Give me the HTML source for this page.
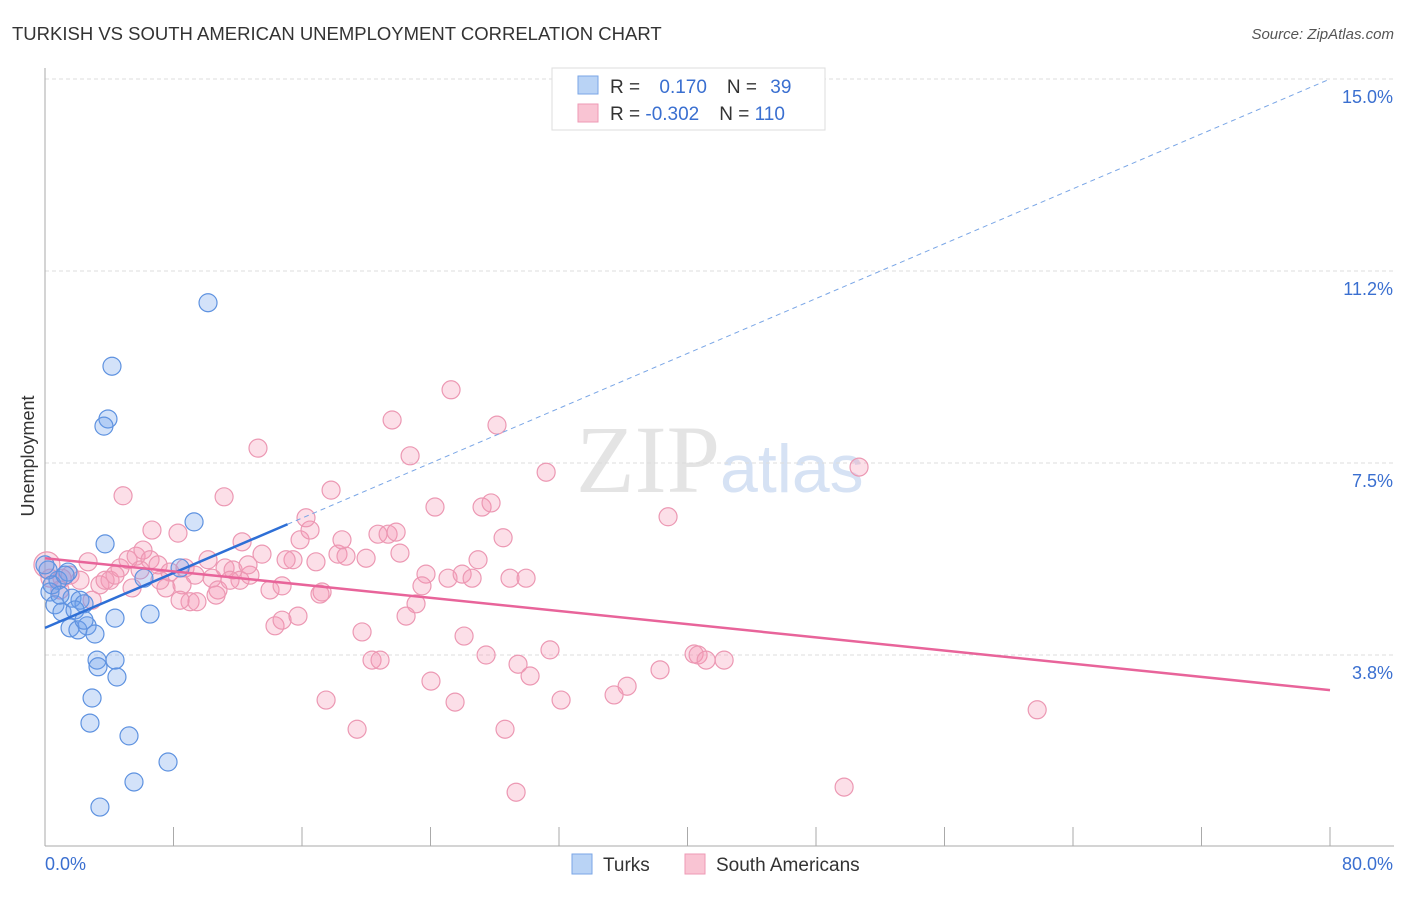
<!DOCTYPE html>
<html><head><meta charset="utf-8"><style>
body{margin:0;background:#fff;font-family:"Liberation Sans",sans-serif}
</style></head><body>
<svg id="chart" width="1406" height="892" xmlns="http://www.w3.org/2000/svg">
<text x="12" y="40" font-size="18.5" fill="#333">TURKISH VS SOUTH AMERICAN UNEMPLOYMENT CORRELATION CHART</text>
<text x="1394" y="39" font-size="15" fill="#555" font-style="italic" text-anchor="end">Source: ZipAtlas.com</text>
<text x="34" y="456" font-size="18" fill="#333" text-anchor="middle" transform="rotate(-90 34 456)">Unemployment</text>
<text x="720" y="492" font-size="96" fill="#e4e4e4" text-anchor="end" font-family="Liberation Serif">ZIP</text>
<text x="720" y="492" font-size="68" fill="#d6e2f4">atlas</text>
<g id="grid"></g><g id="axes"></g><g id="pts"></g><g id="lines"></g>
<g>
<rect x="552" y="68" width="273" height="62" fill="#fff" stroke="#ddd"/>
<rect x="578" y="76" width="20" height="18" fill="#b9d3f5" stroke="#7aa6e6"/>
<rect x="578" y="104" width="20" height="18" fill="#f9c4d3" stroke="#ee9ab4"/>
<text x="610" y="93" font-size="19" fill="#333">R = <tspan fill="#3a6fd0" dx="14">0.170</tspan><tspan fill="#333" dx="20">N = </tspan><tspan fill="#3a6fd0" dx="8">39</tspan></text>
<text x="610" y="120" font-size="19" fill="#333">R = <tspan fill="#3a6fd0">-0.302</tspan><tspan fill="#333" dx="20">N = </tspan><tspan fill="#3a6fd0">110</tspan></text>
</g>
<g>
<rect x="572" y="854" width="20" height="20" fill="#b9d3f5" stroke="#7aa6e6"/>
<text x="603" y="871" font-size="19" fill="#333">Turks</text>
<rect x="685" y="854" width="20" height="20" fill="#f9c4d3" stroke="#ee9ab4"/>
<text x="716" y="871" font-size="19" fill="#333">South Americans</text>
</g>
</svg>
<script>
const yTicks=[3.75,7.5,11.25,15];
const yTickLabels=["3.8%","7.5%","11.2%","15.0%"];
const xTicks=[0,8,16,24,32,40,48,56,64,72,80];
const turksX=[10.15,4.17,3.92,3.67,9.28,3.74,6.16,8.41,1.43,0.81,0.31,0.62,1.06,1.68,2.18,2.43,1.87,1.56,2.62,3.11,4.36,6.54,3.24,4.36,3.30,4.48,2.93,2.80,5.23,7.66,5.54,3.42,0.19,0.44,0.93,1.25,2.05,0,2.43];
const turksY=[10.63,9.39,8.36,8.22,6.35,5.92,5.25,5.45,5.37,5.21,4.98,4.73,4.59,4.86,4.82,4.75,4.63,4.28,4.32,4.16,4.47,4.55,3.65,3.65,3.52,3.32,2.91,2.42,2.17,1.66,1.27,0.78,5.41,5.12,4.92,5.31,4.24,5.51,4.43];
const saX=[0.12,0.31,1.06,1.56,2.18,2.68,3.42,4.05,4.67,5.17,5.67,6.10,6.54,7.04,7.78,8.72,9.34,10.15,10.40,10.77,11.21,11.71,12.14,12.76,13.51,14.01,14.76,15.44,15.88,16.50,16.87,17.25,18.24,18.74,18.49,19.99,20.73,21.36,21.86,22.10,23.72,23.47,23.10,22.48,25.09,25.97,26.59,26.96,28.95,29.95,4.86,6.66,8.28,11.15,12.27,13.26,17.81,16.25,21.61,22.73,25.28,28.14,31.20,24.28,27.21,27.77,28.52,38.79,50.68,7.53,9.03,9.46,10.65,14.32,14.76,15.75,17.12,19.74,20.36,20.86,24.03,25.53,26.09,27.46,29.45,30.20,31.44,32.13,35.43,36.24,38.29,40.41,40.66,41.16,42.28,61.77,17.50,19.43,28.64,29.33,49.75,3.74,4.36,5.92,7.16,8.53,11.52,12.64,15.01,0.93,2.93,5.42,8.41];
const saY=[5.51,5.25,5.25,5.31,5.21,5.57,5.12,5.21,5.45,5.61,5.68,5.80,5.61,5.51,5.37,5.45,5.31,5.61,5.25,5.02,5.45,5.41,5.21,5.31,5.72,5.02,5.10,5.61,6.00,6.19,5.57,4.98,5.72,5.68,6.00,5.64,6.11,6.11,6.15,5.74,5.33,5.10,4.75,4.51,5.25,5.33,5.25,5.61,5.25,5.25,6.86,6.19,6.13,6.84,5.96,7.79,6.97,6.43,8.34,7.64,8.93,8.24,7.32,6.64,6.64,6.72,6.04,6.45,7.42,5.06,4.79,4.79,4.92,4.32,4.43,4.51,4.94,4.20,3.65,3.65,3.24,2.83,4.12,3.75,3.57,3.34,3.85,2.87,2.97,3.14,3.46,3.77,3.75,3.65,3.65,2.68,2.87,2.30,2.30,1.07,1.17,5.21,5.31,5.41,5.21,5.12,5.21,5.51,5.61,5.02,4.82,5.06,4.82];
const turksFit=[4.28,0.134];
const saFit=[5.64,-0.0322];
const NS="http://www.w3.org/2000/svg";
const X=v=>45+v*(1285/80), Y=v=>847-v*51.2;
function mk(t,a,p){const e=document.createElementNS(NS,t);for(const k in a)e.setAttribute(k,a[k]);document.getElementById(p).appendChild(e);return e;}
yTicks.forEach((t,i)=>{
 const l=mk('line',{x1:45,x2:1394,y1:Y(t),y2:Y(t),stroke:'#ddd','stroke-dasharray':'4,3'},'grid');
 
 
 const tx=mk('text',{x:1393,y:Y(t)+24,'font-size':18,fill:'#3a6fd0','text-anchor':'end'},'axes');
 tx.textContent=yTickLabels[i];
 
 
});
const ya=mk('line',{x1:45,x2:45,y1:68,y2:846,stroke:'#aaa'},'axes');


const xa=mk('line',{x1:45,x2:1394,y1:846,y2:846,stroke:'#aaa'},'axes');


xTicks.forEach(t=>{
 const l=mk('line',{x1:X(t),x2:X(t),y1:827,y2:846,stroke:'#aaa'},'axes');
 
 
});
const x0=mk('text',{x:45,y:870,'font-size':18,fill:'#3a6fd0'},'axes');x0.textContent='0.0%';


const x1=mk('text',{x:1393,y:870,'font-size':18,fill:'#3a6fd0','text-anchor':'end'},'axes');x1.textContent='80.0%';


saX.forEach((v,i)=>{
 const c=mk('circle',{cx:X(v),cy:Y(saY[i]),r:i==0?13:9,fill:'rgba(244,150,180,0.3)',stroke:'#ec98b3','stroke-width':1.2},'pts');
 
 
});
turksX.forEach((v,i)=>{
 const c=mk('circle',{cx:X(v),cy:Y(turksY[i]),r:9,fill:'rgba(110,160,235,0.3)',stroke:'#5e92e0','stroke-width':1.2},'pts');
 
 
});
const f=(fit,x)=>fit[0]+fit[1]*x;
const tl=mk('line',{x1:X(0),y1:Y(f(turksFit,0)),x2:X(15.1),y2:Y(f(turksFit,15.1)),stroke:'#2e6fd6','stroke-width':2.5},'lines');


const td=mk('line',{x1:X(15.1),y1:Y(f(turksFit,15.1)),x2:X(80),y2:Y(f(turksFit,80)),stroke:'#7aa6e6','stroke-width':1,'stroke-dasharray':'5,4'},'lines');


const sl=mk('line',{x1:X(0),y1:Y(f(saFit,0)),x2:X(80),y2:Y(f(saFit,80)),stroke:'#e8649a','stroke-width':2.5},'lines');


</script>
</body></html>
